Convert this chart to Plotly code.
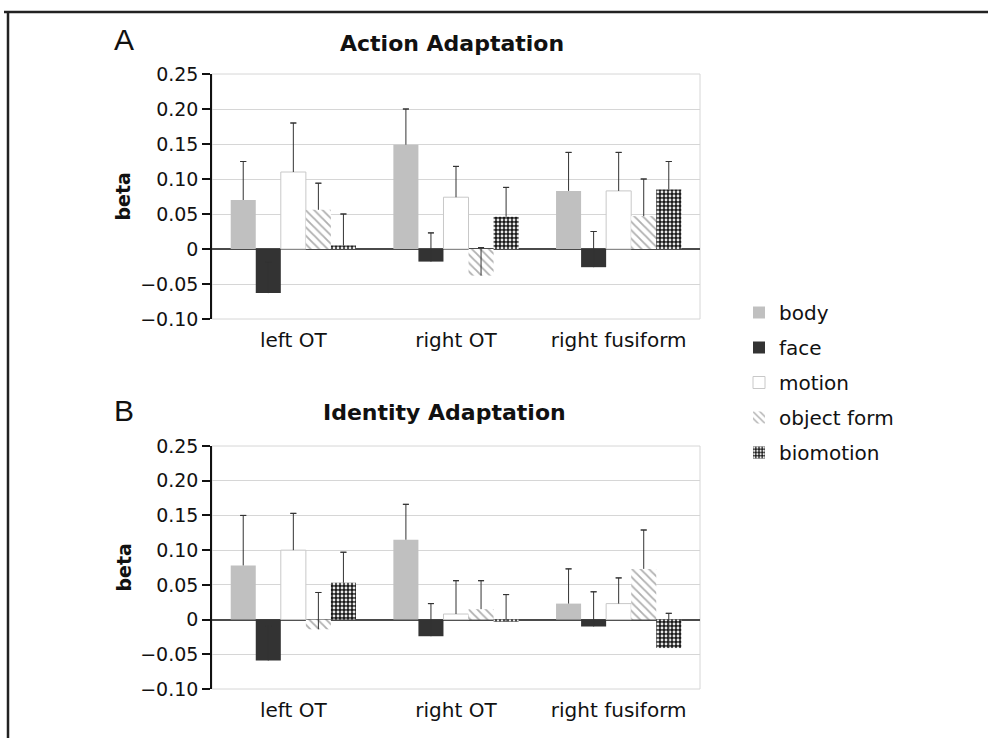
import plotly.graph_objects as go

categories = ["left OT", "right OT", "right fusiform"]
series_names = ["body", "face", "motion", "object form", "biomotion"]

# Action Adaptation (panel A)
action_body = [0.070, 0.149, 0.083]
action_face = [-0.063, -0.018, -0.026]
action_motion = [0.110, 0.074, 0.083]
action_objform = [0.056, -0.038, 0.047]
action_biomotion = [0.005, 0.046, 0.085]
action_body_err = [0.055, 0.051, 0.055]
action_face_err = [0.045, 0.041, 0.051]
action_motion_err = [0.070, 0.044, 0.055]
action_objform_err = [0.038, 0.040, 0.053]
action_biomotion_err = [0.045, 0.042, 0.040]

# Identity Adaptation (panel B)
identity_body = [0.078, 0.115, 0.023]
identity_face = [-0.059, -0.024, -0.010]
identity_motion = [0.100, 0.008, 0.023]
identity_objform = [-0.014, 0.015, 0.073]
identity_biomotion = [0.053, -0.003, -0.041]
identity_body_err = [0.072, 0.051, 0.050]
identity_face_err = [0.050, 0.047, 0.050]
identity_motion_err = [0.053, 0.048, 0.037]
identity_objform_err = [0.053, 0.041, 0.056]
identity_biomotion_err = [0.044, 0.039, 0.050]

ytick_vals = [0.25, 0.20, 0.15, 0.10, 0.05, 0, -0.05, -0.10]
ytick_text = ["0.25", "0.20", "0.15", "0.10", "0.05", "0", "\u22120.05", "\u22120.10"]

W, H = 988, 738
FONT = "DejaVu Sans"

styles = {
    "body": dict(color="#c0c0c0", line=dict(width=0)),
    "face": dict(color="#333333", line=dict(width=0)),
    "motion": dict(color="white", line=dict(width=1, color="#c8c8c8")),
    "object form": dict(color="white", line=dict(width=0),
                        pattern=dict(shape="\\", fgcolor="#b0b0b0", bgcolor="white",
                                     size=6, solidity=0.3)),
    "biomotion": dict(color="#1e1e1e", line=dict(width=0),
                      pattern=dict(shape=".", fgcolor="#e8e8e8", bgcolor="#1a1a1a",
                                   size=4, solidity=0.4)),
}

panels = [
    ("x", "y", [action_body, action_face, action_motion, action_objform, action_biomotion],
     [action_body_err, action_face_err, action_motion_err, action_objform_err, action_biomotion_err]),
    ("x2", "y2", [identity_body, identity_face, identity_motion, identity_objform, identity_biomotion],
     [identity_body_err, identity_face_err, identity_motion_err, identity_objform_err, identity_biomotion_err]),
]

ERR_COLOR = "#333333"
fig = go.Figure()
for pi, (xa, ya, vals, errs) in enumerate(panels):
    for name, v, e in zip(series_names, vals, errs):
        # the bar with its upward (plus-only) error line, no caps
        fig.add_trace(go.Bar(
            x=categories, y=v, name=name, xaxis=xa, yaxis=ya,
            marker=styles[name], offsetgroup=name,
            legendgroup=name, showlegend=(pi == 0), hoverinfo="x+y+name",
            error_y=dict(type="data", symmetric=False, array=e, arrayminus=[0] * len(e),
                         color=ERR_COLOR, thickness=1, width=0),
        ))
        # invisible companion bar at the same slot, carrying only the top cap of the error bar
        tops = [vi + ei for vi, ei in zip(v, e)]
        fig.add_trace(go.Bar(
            x=categories, y=tops, xaxis=xa, yaxis=ya, offsetgroup=name,
            marker=dict(color="rgba(0,0,0,0)", line=dict(width=0)),
            showlegend=False, hoverinfo="skip",
            error_y=dict(type="data", symmetric=True, array=[0] * len(e),
                         color=ERR_COLOR, thickness=1, width=3),
        ))

xdom = [212 / W, 700 / W]
ydom_top = [1 - 319 / H, 1 - 74 / H]
ydom_bot = [1 - 689 / H, 1 - 446 / H]

def xaxis_cfg(anchor):
    return dict(domain=xdom, anchor=anchor, showgrid=False, zeroline=False, showline=False,
                ticks="", tickfont=dict(family=FONT, size=20, color="#111"),
                ticklabelstandoff=7, fixedrange=True)

def yaxis_cfg(anchor, dom):
    return dict(domain=dom, anchor=anchor, range=[-0.10, 0.25], tickvals=ytick_vals,
                ticktext=ytick_text, tickfont=dict(family=FONT, size=19, color="#111"),
                showgrid=True, gridcolor="#d6d6d6", gridwidth=1,
                zeroline=True, zerolinecolor="#4a4a4a", zerolinewidth=1.5,
                showline=True, linecolor="#111", linewidth=1.5,
                ticks="outside", ticklen=8, tickcolor="#111", tickwidth=1.5)

fig.update_layout(
    width=W, height=H, template="none",
    paper_bgcolor="white", plot_bgcolor="white",
    margin=dict(l=0, r=0, t=0, b=0),
    barmode="group", bargap=0.23, bargroupgap=0,
    xaxis=xaxis_cfg("y"), yaxis=yaxis_cfg("x", ydom_top),
    xaxis2=xaxis_cfg("y2"), yaxis2=yaxis_cfg("x2", ydom_bot),
    legend=dict(x=739 / W, y=1 - 293 / H, xanchor="left", yanchor="top",
                font=dict(family=FONT, size=20, color="#111"),
                tracegroupgap=6, bgcolor="rgba(0,0,0,0)", itemclick=False),
    showlegend=True,
)

# light grey plot frame
for xr, yr in [("x domain", "y domain"), ("x2 domain", "y2 domain")]:
    fig.add_shape(type="rect", xref=xr, yref=yr, x0=0, x1=1, y0=0, y1=1,
                  line=dict(color="#d6d6d6", width=1), layer="below")

# page border
fig.add_shape(type="line", xref="paper", yref="paper", x0=4 / W, x1=1, y0=1 - 12 / H, y1=1 - 12 / H,
              line=dict(color="#222", width=2.5))
fig.add_shape(type="line", xref="paper", yref="paper", x0=8 / W, x1=8 / W, y0=0, y1=1 - 12 / H,
              line=dict(color="#222", width=2.5))

annots = [
    dict(text="A", x=124 / W, y=1 - 40 / H, font=dict(family="Liberation Sans", size=30, color="#111")),
    dict(text="B", x=124 / W, y=1 - 410 / H, font=dict(family="Liberation Sans", size=30, color="#111")),
    dict(text="<b>Action Adaptation</b>", x=452 / W, y=1 - 43 / H,
         font=dict(family=FONT, size=22, color="#111")),
    dict(text="<b>Identity Adaptation</b>", x=444 / W, y=1 - 412 / H,
         font=dict(family=FONT, size=22, color="#111")),
    dict(text="<b>beta</b>", x=123 / W, y=1 - 196.5 / H, textangle=-90,
         font=dict(family=FONT, size=19, color="#111")),
    dict(text="<b>beta</b>", x=123 / W, y=1 - 567.5 / H, textangle=-90,
         font=dict(family=FONT, size=19, color="#111")),
]
for a in annots:
    fig.add_annotation(xref="paper", yref="paper", showarrow=False,
                       xanchor="center", yanchor="middle", **a)

fig.write_html("out.html")
